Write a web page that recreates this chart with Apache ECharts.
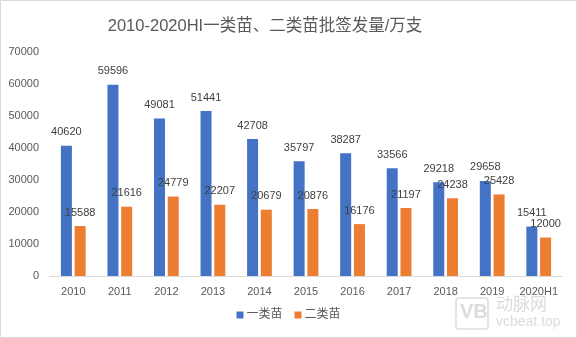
<!DOCTYPE html>
<html><head><meta charset="utf-8">
<script src="https://cdn.jsdelivr.net/npm/echarts@6/dist/echarts.min.js"></script>
<style>html,body{margin:0;padding:0;background:#fff}#c{width:577px;height:338px}</style>
</head><body><div id="c"></div>
<script>
const categories = ['2010','2011','2012','2013','2014','2015','2016','2017','2018','2019','2020H1'];
const class1 = [40620,59596,49081,51441,42708,35797,38287,33566,29218,29658,15411];
const class2 = [15588,21616,24779,22207,20679,20876,16176,21197,24238,25428,12000];
const seriesNames = ['一类苗','二类苗'];
const titleText = '2010-2020HI一类苗、二类苗批签发量/万支';

const font = '"Liberation Sans","Noto Sans CJK SC",sans-serif';
const chart = echarts.init(document.getElementById('c'));
chart.setOption({
  animation:false,
  textStyle:{fontFamily:font},
  title:{text:titleText,left:260,textAlign:'center',top:13,textStyle:{fontSize:16.5,fontWeight:'normal',color:'#595959',fontFamily:font}},
  grid:{left:50,right:15,top:51.5,bottom:62},
  legend:{data:seriesNames,bottom:12,left:'center',itemWidth:7,itemHeight:7,itemGap:12,icon:'rect',
    textStyle:{color:'#595959',fontSize:12,padding:[0,0,0,-2]}},
  xAxis:{type:'category',data:categories,axisTick:{show:false},
    axisLine:{lineStyle:{color:'#d9d9d9'}},
    axisLabel:{color:'#595959',fontSize:11,margin:10,interval:0}},
  yAxis:{type:'value',min:0,max:70000,interval:10000,
    axisLine:{show:false},axisTick:{show:false},splitLine:{show:false},
    axisLabel:{color:'#595959',fontSize:11,margin:11,formatter:v=>String(v)}},
  series:[
    {name:seriesNames[0],type:'bar',data:class1,barWidth:11,barGap:'25%',itemStyle:{color:'#4472C4'},
     label:{show:true,position:'top',color:'#404040',fontSize:11,distance:8}},
    {name:seriesNames[1],type:'bar',data:class2,barWidth:11,itemStyle:{color:'#ED7D31'},
     label:{show:true,position:'top',color:'#404040',fontSize:11,distance:8}}
  ],
  graphic:[
    {type:'rect',shape:{x:0.5,y:0.5,width:576,height:337},style:{fill:'none',stroke:'#d9d9d9',lineWidth:1}},
    {type:'rect',shape:{x:456,y:298,width:32,height:31,r:3},style:{fill:'none',stroke:'#dcdcdc',lineWidth:1.5}},
    {type:'text',left:460,top:302,style:{text:'VB',fontSize:20,fontWeight:'bold',fill:'#dcdcdc',fontFamily:font}},
    {type:'text',left:496,top:297,style:{text:'动脉网',fontSize:17,fill:'#dcdcdc',fontFamily:font}},
    {type:'text',left:496,top:315,style:{text:'vcbeat.top',fontSize:14,fill:'#dcdcdc',fontFamily:font}}
  ]
});
</script></body></html>
